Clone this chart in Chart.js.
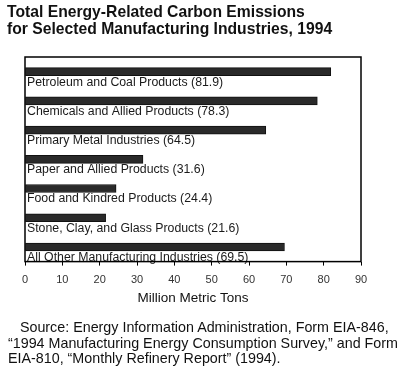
<!DOCTYPE html>
<html>
<head>
<meta charset="utf-8">
<script src="https://cdn.jsdelivr.net/npm/chart.js@4"></script>
<style>
  html, body { margin: 0; padding: 0; background: #fff; }
  #wrap { position: relative; width: 400px; height: 367px; overflow: hidden; font-family: "Liberation Sans", Arial, sans-serif; color: #111; }
  #chart { position: absolute; left: 0; top: 0; }
  .title { position: absolute; left: 7px; top: 4px; font-weight: bold; font-size: 15.7px; line-height: 16.5px; color: #111; }
  .source { position: absolute; left: 8px; top: 320px; font-size: 14.3px; line-height: 15.5px; color: #111; white-space: nowrap; }
</style>
</head>
<body>
<div id="wrap">
  <canvas id="chart" width="400" height="367"></canvas>
  <div class="title">Total Energy-Related Carbon Emissions<br>for Selected Manufacturing Industries, 1994</div>
  <div class="source">&nbsp;&nbsp;&nbsp;Source: Energy Information Administration, Form EIA-846,<br>“1994 Manufacturing Energy Consumption Survey,” and Form<br>EIA-810, “Monthly Refinery Report” (1994).</div>
</div>
<script>
// ── Data ────────────────────────────────────────────────────────────────────
const industries = [
    'Petroleum and Coal Products',
    'Chemicals and Allied Products',
    'Primary Metal Industries',
    'Paper and Allied Products',
    'Food and Kindred Products',
    'Stone, Clay, and Glass Products',
    'All Other Manufacturing Industries',
];
const emissions = [81.9, 78.3, 64.5, 31.6, 24.4, 21.6, 69.5];
const xTicks = [0, 10, 20, 30, 40, 50, 60, 70, 80, 90];

const FONT = '"Liberation Sans", Arial, sans-serif';

// Labels sit under each bar, left-aligned inside the plot box
const barLabels = {
    id: 'barLabels',
    afterDatasetsDraw(chart) {
        const { ctx } = chart;
        const meta = chart.getDatasetMeta(0);
        ctx.save();
        ctx.font = `12.3px ${FONT}`;
        ctx.fillStyle = '#1a1a1a';
        ctx.textBaseline = 'middle';
        meta.data.forEach((bar, i) => {
            const text = `${industries[i]} (${emissions[i].toFixed(1)})`;
            ctx.fillText(text, chart.chartArea.left + 2, bar.y + bar.height / 2 + 6.5);
        });
        ctx.restore();
    },
};

// Black frame round the plot area
const frame = {
    id: 'frame',
    afterDraw(chart) {
        const { ctx, chartArea: a } = chart;
        ctx.save();
        ctx.strokeStyle = '#000';
        ctx.lineWidth = 1.5;
        ctx.strokeRect(a.left, a.top, a.right - a.left, a.bottom - a.top);
        ctx.restore();
    },
};

new Chart(document.getElementById('chart'), {
    type: 'bar',
    data: {
        labels: industries,
        datasets: [{
            data: emissions,
            backgroundColor: '#2a2a2a',
            borderColor: '#111',
            borderWidth: 1,
            borderSkipped: false,
            barThickness: 8,
        }],
    },
    options: {
        indexAxis: 'y',
        responsive: false,
        animation: false,
        layout: { padding: { left: 25, right: 39, top: 57, bottom: 61 } },
        plugins: { legend: { display: false }, tooltip: { enabled: false } },
        scales: {
            y: { display: false },
            x: {
                min: 0,
                max: 90,
                afterBuildTicks: (s) => { s.ticks = xTicks.map((v) => ({ value: v })); },
                grid: { drawOnChartArea: false, drawTicks: true, tickLength: 4, color: '#000' },
                border: { display: false },
                ticks: { color: '#333', font: { family: FONT, size: 11 }, padding: 8, maxRotation: 0 },
                title: {
                    display: true,
                    text: 'Million Metric Tons',
                    color: '#111',
                    font: { family: FONT, size: 13.5 },
                    padding: { top: -5, bottom: 0 },
                },
            },
        },
    },
    plugins: [barLabels, frame],
});
</script>
</body>
</html>
